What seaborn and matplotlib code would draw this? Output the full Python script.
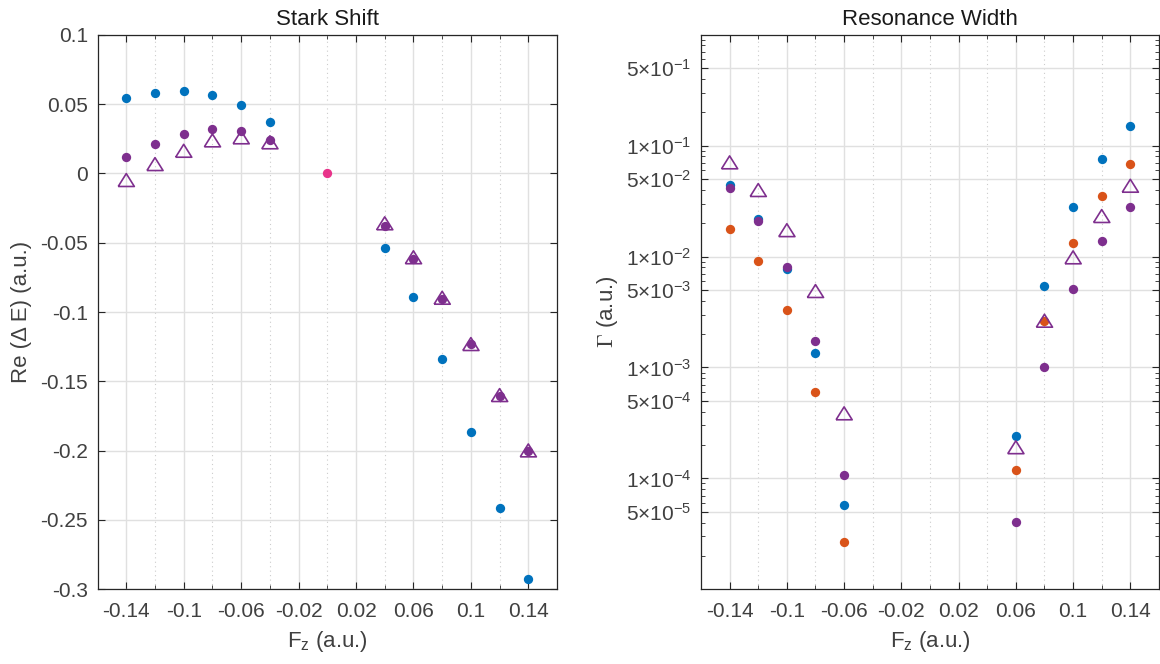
import numpy as np
import pandas as pd
import seaborn as sns
import matplotlib.pyplot as plt
from matplotlib.ticker import FixedLocator, LogLocator, NullFormatter

# field values
fz_stark = [-0.14, -0.12, -0.10, -0.08, -0.06, -0.04, 0.04, 0.06, 0.08, 0.10, 0.12, 0.14]
fz_width = [-0.14, -0.12, -0.10, -0.08, -0.06, 0.06, 0.08, 0.10, 0.12, 0.14]

# Stark shift, Re(dE)
shift_blue = [0.0546, 0.0577, 0.0592, 0.0567, 0.0495, 0.0370,
              -0.0538, -0.0892, -0.1339, -0.1866, -0.2417, -0.2924]
shift_purple = [0.0118, 0.0214, 0.0286, 0.0320, 0.0308, 0.0243,
                -0.0378, -0.0620, -0.0908, -0.1230, -0.1604, -0.2000]
shift_tri = [-0.0048, 0.0067, 0.0163, 0.0238, 0.0260, 0.0224,
             -0.0360, -0.0605, -0.0897, -0.1231, -0.1599, -0.1998]
shift_zero_x = [0.0]
shift_zero_y = [0.0]

# resonance width, Gamma
width_blue = [0.0441, 0.0218, 0.00766, 0.00136, 5.71e-5,
              2.42e-4, 5.42e-3, 0.0281, 0.0762, 0.149]
width_orange = [0.0178, 0.0091, 0.00330, 6.04e-4, 2.65e-5,
                1.19e-4, 2.62e-3, 0.01324, 0.0351, 0.0678]
width_purple = [0.0412, 0.0210, 0.0080, 0.00175, 1.08e-4,
                4.01e-5, 1.02e-3, 0.00506, 0.0138, 0.0278]
width_tri = [0.0707, 0.0398, 0.0173, 0.00489, 3.86e-4,
             1.91e-4, 2.64e-3, 0.00984, 0.0232, 0.0435]

x_major = [-0.14, -0.10, -0.06, -0.02, 0.02, 0.06, 0.10, 0.14]
x_labels = ['-0.14', '-0.1', '-0.06', '-0.02', '0.02', '0.06', '0.1', '0.14']
y_left = [-0.3, -0.25, -0.2, -0.15, -0.1, -0.05, 0, 0.05, 0.1]
y_left_labels = ['-0.3', '-0.25', '-0.2', '-0.15', '-0.1', '-0.05', '0', '0.05', '0.1']
y_right = [5e-5, 1e-4, 5e-4, 1e-3, 5e-3, 1e-2, 5e-2, 1e-1, 5e-1]
y_right_labels = [r'$\mathregular{5{\times}10^{-5}}$', r'$\mathregular{1{\times}10^{-4}}$',
                  r'$\mathregular{5{\times}10^{-4}}$', r'$\mathregular{1{\times}10^{-3}}$',
                  r'$\mathregular{5{\times}10^{-3}}$', r'$\mathregular{1{\times}10^{-2}}$',
                  r'$\mathregular{5{\times}10^{-2}}$', r'$\mathregular{1{\times}10^{-1}}$',
                  r'$\mathregular{5{\times}10^{-1}}$']

BLUE = '#0072BD'
PURPLE = '#7E2F8E'
ORANGE = '#D95319'
PINK = '#E8338A'
TEXT = '#404040'

sns.set_style('ticks')
plt.rcParams['font.family'] = ['Liberation Sans', 'DejaVu Sans']
plt.rcParams['mathtext.fontset'] = 'custom'
plt.rcParams['mathtext.rm'] = 'Liberation Sans'
plt.rcParams['mathtext.it'] = 'Liberation Sans'

# wide triangle like matlab's
tri = [(-1, -0.8), (1, -0.8), (0, 0.8), (-1, -0.8)]
dot_s = 45
tri_s = 135

fig = plt.figure(figsize=(11.6, 6.64), dpi=100)
ax1 = fig.add_axes([0.0841, 0.1125, 0.3961, 0.8352])
ax2 = fig.add_axes([0.6043, 0.1125, 0.3948, 0.8352])


def style_axes(ax):
    ax.set_xlim(-0.16, 0.16)
    ax.xaxis.set_major_locator(FixedLocator(x_major))
    ax.set_xticklabels(x_labels)
    ax.xaxis.set_minor_locator(FixedLocator([-0.12, -0.08, -0.04, 0.0, 0.04, 0.08, 0.12]))
    ax.grid(True, which='major', axis='both', color='#e0e0e0', lw=1, ls='-')
    ax.grid(True, which='minor', axis='x', color='#cccccc', lw=0.8, ls=(0, (1, 3)))
    ax.tick_params(which='both', direction='in', top=True, right=True,
                   labelsize=15, colors='#262626', labelcolor=TEXT)
    ax.tick_params(axis='x', which='major', pad=9)
    ax.tick_params(axis='y', which='major', pad=7)
    ax.tick_params(axis='x', which='minor', length=0)
    ax.tick_params(which='major', length=5, width=0.8)
    ax.tick_params(which='minor', length=3, width=0.6)
    for sp in ax.spines.values():
        sp.set_visible(True)
        sp.set_color('#262626')
        sp.set_linewidth(0.9)
    ax.set_axisbelow(True)
    ax.set_xlabel(r'$\mathregular{F_z}$ (a.u.)', fontsize=16, color=TEXT, labelpad=6)


# left panel: Stark shift
sns.scatterplot(x=fz_stark, y=shift_blue, ax=ax1, color=BLUE, s=dot_s, linewidth=0, zorder=3)
sns.scatterplot(x=fz_stark, y=shift_purple, ax=ax1, color=PURPLE, s=dot_s, linewidth=0, zorder=3)
sns.scatterplot(x=fz_stark, y=shift_tri, ax=ax1, marker=tri, s=tri_s,
                facecolor='none', edgecolor=PURPLE, linewidth=1.2, zorder=4)
sns.scatterplot(x=shift_zero_x, y=shift_zero_y, ax=ax1, color=PINK, s=dot_s, linewidth=0, zorder=3)
style_axes(ax1)
ax1.set_ylim(-0.3, 0.1)
ax1.yaxis.set_major_locator(FixedLocator(y_left))
ax1.set_yticklabels(y_left_labels)
ax1.set_ylabel('Re (Δ E) (a.u.)', fontsize=16, color=TEXT, labelpad=6)
ax1.set_title('Stark Shift', fontsize=16, color='#1a1a1a', pad=7)

# right panel: resonance width
ax2.set_yscale('log')
sns.scatterplot(x=fz_width, y=width_blue, ax=ax2, color=BLUE, s=dot_s, linewidth=0, zorder=3)
sns.scatterplot(x=fz_width, y=width_orange, ax=ax2, color=ORANGE, s=dot_s, linewidth=0, zorder=3)
sns.scatterplot(x=fz_width, y=width_purple, ax=ax2, color=PURPLE, s=dot_s, linewidth=0, zorder=3)
sns.scatterplot(x=fz_width, y=width_tri, ax=ax2, marker=tri, s=tri_s,
                facecolor='none', edgecolor=PURPLE, linewidth=1.2, zorder=4)
style_axes(ax2)
ax2.set_ylim(1e-5, 1)
ax2.yaxis.set_major_locator(FixedLocator(y_right))
ax2.set_yticklabels(y_right_labels)
ax2.yaxis.set_minor_locator(LogLocator(base=10, subs=np.arange(2, 10), numticks=20))
ax2.yaxis.set_minor_formatter(NullFormatter())
ax2.set_ylabel(r'$\Gamma$ (a.u.)', fontsize=16, color=TEXT, labelpad=4, math_fontfamily='cm')
ax2.set_title('Resonance Width', fontsize=16, color='#1a1a1a', pad=7)

fig.savefig('out.png', dpi=100)
